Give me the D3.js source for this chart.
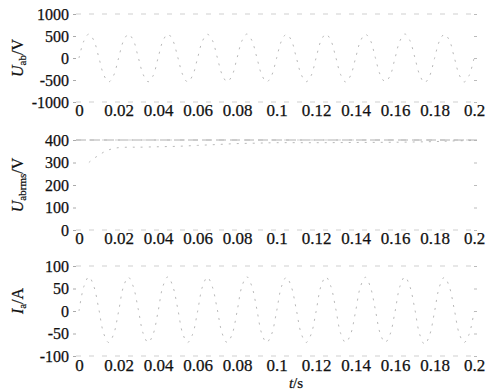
<!DOCTYPE html>
<html><head><meta charset="utf-8">
<script src="https://cdn.jsdelivr.net/npm/d3@7"></script>
<style>body{margin:0;background:#fff}svg{display:block}</style>
</head><body>
<svg id="c" width="489" height="391"></svg>
<script>
const xTicks = [0,0.02,0.04,0.06,0.08,0.1,0.12,0.14,0.16,0.18,0.2];
const xTickLabels = ["0","0.02","0.04","0.06","0.08","0.1","0.12","0.14","0.16","0.18","0.2"];
// sample times every 0.0025 s
const tSamples = [0,0.0025,0.005,0.0075,0.01,0.0125,0.015,0.0175,0.02,0.0225,0.025,0.0275,0.03,0.0325,0.035,0.0375,0.04,0.0425,0.045,0.0475,0.05,0.0525,0.055,0.0575,0.06,0.0625,0.065,0.0675,0.07,0.0725,0.075,0.0775,0.08,0.0825,0.085,0.0875,0.09,0.0925,0.095,0.0975,0.1,0.1025,0.105,0.1075,0.11,0.1125,0.115,0.1175,0.12,0.1225,0.125,0.1275,0.13,0.1325,0.135,0.1375,0.14,0.1425,0.145,0.1475,0.15,0.1525,0.155,0.1575,0.16,0.1625,0.165,0.1675,0.17,0.1725,0.175,0.1775,0.18,0.1825,0.185,0.1875,0.19,0.1925,0.195,0.1975,0.2];
const uab = [0,390,545,400,20,-380,-545,-400,-10,385,540,405,15,-375,-540,-405,-5,390,545,400,20,-380,-545,-400,-10,385,540,405,15,-380,-540,-400,-5,390,545,400,20,-380,-545,-400,-10,385,540,405,15,-375,-540,-405,-5,390,545,400,20,-380,-545,-400,-10,385,540,405,15,-380,-540,-405,-5,390,545,400,20,-385,-560,-410,-10,385,540,405,15,-380,-545,-400,-5];
const uabrmsT = [0.005,0.0075,0.01,0.0125,0.015,0.0175,0.02,0.025,0.03,0.04,0.05,0.06,0.07,0.08,0.09,0.1,0.12,0.14,0.16,0.18,0.19,0.2];
const uabrms = [300,318,332,346,356,362,366,368,368,370,372,376,380,384,386,388,388,389,390,393,396,398];
const ia = [0,55,76,55,5,-50,-70,-52,-2,54,75,54,4,-50,-70,-52,-2,55,76,55,5,-50,-70,-52,-2,54,75,54,4,-50,-70,-52,-2,55,76,55,5,-50,-70,-52,-2,54,75,54,4,-50,-70,-52,-2,55,76,55,5,-50,-70,-52,-2,54,75,54,4,-50,-70,-52,-2,55,76,55,5,-52,-74,-54,-2,54,75,54,4,-50,-70,-52,-2];
const p1Ticks = [1000,500,0,-500,-1000];
const p2Ticks = [400,300,200,100,0];
const p3Ticks = [100,50,0,-50,-100];

const FONT = "'Liberation Serif', 'Times New Roman', Times, serif";
const svg = d3.select("#c");
const x = d3.scaleLinear().domain([0,0.2]).range([79,474]);
const frameL = 76, frameR = 477;

const panels = [
  {top:14,bottom:102,domain:[-1000,1000],ticks:p1Ticks,labY:110,xs:tSamples,ys:uab},
  {top:140,bottom:230,domain:[0,400],ticks:p2Ticks,labY:238,xs:uabrmsT,ys:uabrms},
  {top:266,bottom:356,domain:[-100,100],ticks:p3Ticks,labY:365,xs:tSamples,ys:ia}
];

function styleText(sel, size){
  sel.style("font-family",FONT).style("font-size",(size||16)+"px").attr("fill","#111")
    .attr("stroke","#111").attr("stroke-width",0.25);
}

panels.forEach((p,i)=>{
  const y = d3.scaleLinear().domain(p.domain).range([p.bottom,p.top]);
  const g = svg.append("g");
  [p.top,p.bottom].forEach(yy=>{
    g.append("line").attr("x1",frameL).attr("x2",frameR).attr("y1",yy).attr("y2",yy)
      .attr("stroke","#cfcfcf").attr("stroke-width",1).attr("stroke-dasharray","5,8");
  });
  const ya = d3.axisLeft(y).tickValues(p.ticks).tickSize(3).tickPadding(4).tickFormat(d=>String(d));
  const ag = g.append("g").attr("transform",`translate(${frameL},0)`).call(ya);
  ag.select(".domain").remove();
  ag.selectAll(".tick line").attr("stroke","#aaa");
  styleText(ag.selectAll("text"),16);
  const ra = d3.axisRight(y).tickValues(p.ticks).tickSize(-3).tickFormat("");
  const rg = g.append("g").attr("transform",`translate(${frameR},0)`).call(ra);
  rg.select(".domain").remove();
  rg.selectAll(".tick line").attr("stroke","#bbb");
  const xa = d3.axisBottom(x).tickValues(xTicks).tickSize(0).tickPadding(0)
    .tickFormat((d,k)=>xTickLabels[k]);
  const xg = g.append("g").attr("transform",`translate(0,${p.labY-6})`).call(xa);
  xg.select(".domain").remove();
  styleText(xg.selectAll("text"),17);
  const line = d3.line().x((d,k)=>x(p.xs[k])).y(d=>y(d)).curve(d3.curveCatmullRom);
  g.append("path").datum(p.ys).attr("d",line).attr("fill","none")
    .attr("stroke","#b0b0b0").attr("stroke-width",0.9).attr("stroke-dasharray","2,6");
  if(i===1){
    g.append("line").attr("x1",frameL).attr("x2",frameR).attr("y1",y(400)).attr("y2",y(400))
      .attr("stroke","#b0b0b0").attr("stroke-width",1).attr("stroke-dasharray","10,4");
  }
});

function ylab(cx, cy, main, sub, unit){
  const t = svg.append("text").attr("transform",`translate(${cx},${cy}) rotate(-90)`)
    .attr("text-anchor","middle");
  styleText(t,16);
  t.append("tspan").attr("font-style","italic").text(main);
  t.append("tspan").attr("dy",3).style("font-size","11px").text(sub);
  t.append("tspan").attr("dy",-3).text(unit);
}
ylab(23,58,"U","ab","/V");
ylab(23,185,"U","abrms","/V");
ylab(23,301,"I","a","/A");

const xl = svg.append("text").attr("x",296).attr("y",388).attr("text-anchor","middle");
styleText(xl,15);
xl.append("tspan").attr("font-style","italic").text("t");
xl.append("tspan").text("/s");
</script>
</body></html>
